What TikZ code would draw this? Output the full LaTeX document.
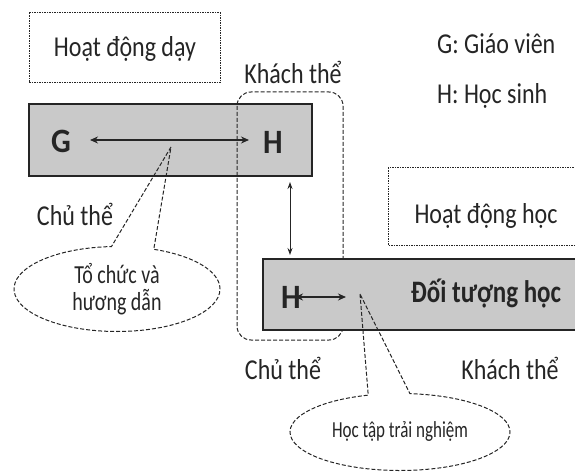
\documentclass[tikz,border=0pt]{standalone}
\usepackage{fontspec}
\usepackage{graphicx}
\setmainfont{Carlito}
\usetikzlibrary{shapes.callouts,arrows.meta}
\definecolor{panel}{HTML}{C9C9C9}
\definecolor{ink}{HTML}{252525}
% text in this figure is set tall and narrow
\newcommand{\tallt}[2][1.2]{\scalebox{1}[#1]{#2}}
\tikzset{
  lbl/.style={font=\fontsize{24}{27}\selectfont, text=ink, inner sep=0pt},
  bigb/.style={font=\fontsize{25}{28}\selectfont\bfseries, text=ink, inner sep=0pt},
  bigl/.style={font=\fontsize{31}{34}\selectfont\bfseries, text=ink, inner sep=0pt},
  panelbox/.style={fill=panel, draw=ink, line width=1.8pt},
  dotbox/.style={draw=ink, line width=1pt, dash pattern=on 1.5pt off 1pt},
  grp/.style={draw=ink, line width=1pt, dash pattern=on 4pt off 2pt, rounded corners=14pt},
  bubble/.style={ellipse callout, draw=ink, line width=1pt, dash pattern=on 4pt off 2pt,
    inner sep=0pt, align=center, text=ink},
  arr/.style={<->, >={Stealth[length=8pt,width=7pt]}, draw=ink, line width=1.8pt},
  thinarr/.style={<->, >={Stealth[length=7pt,width=5pt]}, draw=ink, line width=0.9pt}
}
\begin{document}
\begin{tikzpicture}[x=1pt,y=-1pt]
\useasboundingbox (0,0) rectangle (575,473);
\clip (0,0) rectangle (575,473);

% teaching activity
\draw[dotbox] (29,13) rectangle (220,83);
\node[lbl] (hdday) at (125,49) {\tallt{Hoạt động dạy}};
\node[lbl] (kt1) at (293,72) {\tallt{Khách thể}};

% legend
\node[lbl, anchor=west] (lgG) at (437,44) {\tallt{G: Giáo viên}};
\node[lbl, anchor=west] (lgH) at (437,96) {\tallt{H: Học sinh}};

% upper bar: teacher and learner
\draw[panelbox] (29,104) rectangle (312,176);
\node[bigl] (G) at (61,141) {\tallt[1.1]{G}};
\node[bigl] (H1) at (273,142) {\tallt[1.1]{H}};
\coordinate (gl) at (90,140);
\coordinate (gr) at (249,140);
\draw[arr] (gl) -- (gr);
\coordinate (tip1) at (171,147);

\node[lbl] (ct1) at (75,214) {\tallt{Chủ thể}};

% learner group
\draw[grp] (237,92) rectangle (343,340);

% learning activity
\draw[dotbox] (388,168) rectangle (590,245);
\node[lbl] (hdhoc) at (486,216) {\tallt{Hoạt động học}};

% link between the two learners
\coordinate (vt) at (290,182);
\coordinate (vb) at (290,255);
\draw[thinarr] (vt) -- (vb);

% lower bar: learner and object
\draw[panelbox] (263,259) rectangle (590,330);
\node[bigl] (H2) at (291,297) {\tallt[1.1]{H}};
\node[bigb] (dt) at (486,294) {\tallt[1.25]{Đối tượng học}};
\coordinate (hl) at (295,297);
\coordinate (hr) at (346,297);
\draw[arr] (hl) -- (hr);
\coordinate (tip2) at (360,294);

\node[lbl] (ct2) at (283,368) {\tallt{Chủ thể}};
\node[lbl] (kt2) at (510,368) {\tallt{Khách thể}};

% speech bubbles
\node[bubble, minimum width=206pt, minimum height=85pt, callout absolute pointer={(tip1)},
  callout pointer arc=24, font=\fontsize{20}{27}\selectfont] (b1) at (117,289)
  {\tallt[1.3]{Tổ chức và}\\\tallt[1.3]{hương dẫn}};
\node[bubble, minimum width=220pt, minimum height=77pt, callout absolute pointer={(tip2)},
  callout pointer arc=22, font=\fontsize{17}{20}\selectfont] (b2) at (400,432)
  {\tallt[1.35]{Học tập trải nghiệm}};
\end{tikzpicture}
\end{document}
